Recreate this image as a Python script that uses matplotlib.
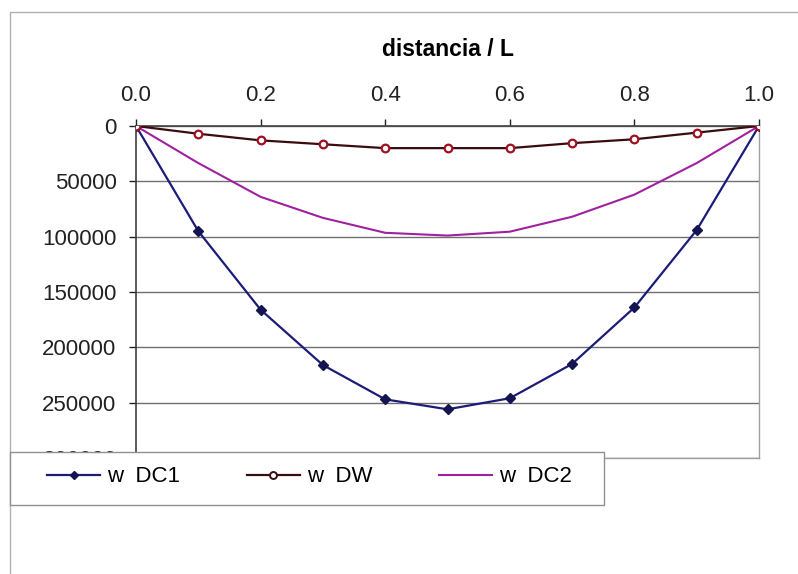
import matplotlib
matplotlib.use("Agg")
import matplotlib.pyplot as plt
from matplotlib.patches import Rectangle
from matplotlib.lines import Line2D

x = [0.0, 0.1, 0.2, 0.3, 0.4, 0.5, 0.6, 0.7, 0.8, 0.9, 1.0]
w_dc1 = [0, 95000, 166000, 216000, 247000, 256000, 246000, 215000, 164000, 94000, 0]
w_dw = [0, 7000, 13000, 16500, 20000, 20000, 20000, 15500, 12000, 6000, 0]
w_dc2 = [0, 33500, 64000, 83000, 96500, 99000, 95500, 82000, 62000, 33500, 0]
labels = ["w  DC1", "w  DW", "w  DC2"]
xticks = [0.0, 0.2, 0.4, 0.6, 0.8, 1.0]
yticks = [0, 50000, 100000, 150000, 200000, 250000, 300000]

plt.rcParams['font.family'] = ['Liberation Sans', 'DejaVu Sans']

W, H = 798, 574
fig = plt.figure(figsize=(W / 100, H / 100), dpi=100)

# outer chart frame
fig.patches.append(Rectangle((10 / W, -0.05), 1.1, 1 - 12 / H + 0.05, transform=fig.transFigure,
                             fill=False, edgecolor='#b0b0b0', linewidth=1.0))

ax = fig.add_axes([136 / W, 1 - 458 / H, (759 - 136) / W, (458 - 126) / H])

ax.plot(x, w_dc1, color='#1c1c78', linewidth=1.6, marker='D', markersize=5.5,
        markerfacecolor='#141450', markeredgecolor='#141450', label=labels[0], zorder=3)
ax.plot(x, w_dw, color='#3a0c10', linewidth=1.6, marker='o', markersize=5.5,
        markerfacecolor='white', markeredgecolor='#a01020', markeredgewidth=1.6,
        label=labels[1], zorder=4)
ax.plot(x, w_dc2, color='#a020a0', linewidth=1.5, label=labels[2], zorder=3)

ax.set_xlim(0, 1.0)
ax.set_ylim(300000, 0)
ax.xaxis.tick_top()
ax.xaxis.set_label_position('top')
ax.set_xticks(xticks)
ax.set_xticklabels([f"{v:.1f}" for v in xticks])
ax.set_yticks(yticks)
ax.set_yticklabels([str(v) for v in yticks])
ax.tick_params(axis='both', labelsize=16, colors='#222222', length=5, width=1)
ax.tick_params(axis='x', pad=9.5)
ax.tick_params(axis='y', pad=9)
ax.set_xlabel('distancia / L', fontsize=16.5, fontweight='bold', labelpad=21)

ax.grid(axis='y', color='#707070', linewidth=1.0)
ax.set_axisbelow(True)
for s in ['top', 'left']:
    ax.spines[s].set_color('#404040')
    ax.spines[s].set_linewidth(1.2)
for s in ['right', 'bottom']:
    ax.spines[s].set_color('#a0a0a0')
    ax.spines[s].set_linewidth(1.0)

# legend frame
fig.patches.append(Rectangle((10 / W, 1 - 505 / H), (604 - 10) / W, (505 - 452) / H,
                             transform=fig.transFigure, facecolor='white',
                             edgecolor='#909090', linewidth=1.0, zorder=5))

handles = [
    Line2D([], [], color='#1c1c78', linewidth=1.6, marker='D', markersize=4,
           markerfacecolor='#141450', markeredgecolor='#141450'),
    Line2D([], [], color='#3a0c10', linewidth=1.6, marker='o', markersize=5,
           markerfacecolor='white', markeredgecolor='#3a0c10', markeredgewidth=1.4),
    Line2D([], [], color='#a020a0', linewidth=1.5),
]
leg = fig.legend(handles, labels, loc='center left', ncol=3,
                 bbox_to_anchor=(47 / W, 1 - 477 / H),
                 fontsize=16, frameon=False, handlelength=2.4,
                 handletextpad=0.3, columnspacing=3.0, borderaxespad=0, borderpad=0)
leg.set_zorder(10)

fig.savefig('out.png', dpi=100)
